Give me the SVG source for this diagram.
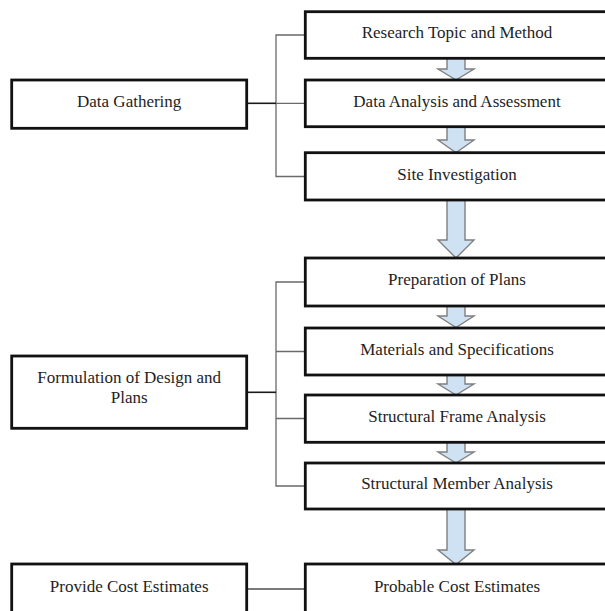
<svg xmlns="http://www.w3.org/2000/svg" width="605" height="611" viewBox="0 0 605 611">
<style>
.box{fill:#fff;stroke:#111;stroke-width:2.8}
.t{font-family:"Liberation Serif","Times New Roman",serif;font-size:17px;fill:#1e1e1e;text-anchor:middle}
.br{fill:none;stroke:#6a6a6a;stroke-width:1.3}
.lk{fill:none;stroke:#1a1a1a;stroke-width:1.6}
.lg{fill:none;stroke:#7a7a7a;stroke-width:2}
.ar{fill:#cfe2f3;stroke:#7f7f7f;stroke-width:1.4;stroke-linejoin:miter}
</style>
<rect width="605" height="611" fill="#fff"/>
<g id="connectors">
<path class="br" d="M305,35 H276 V176.5 H305 M276,103.3 H305"/>
<path class="lk" d="M246.7,103.3 H276"/>
<path class="br" d="M305,282 H276 V486 H305 M276,351.5 H305 M276,418.5 H305"/>
<path class="lk" d="M246.7,392.3 H276"/>
<path class="lg" d="M246.7,589 H305"/>
<path class="ar" d="M447,58 V69 H438 L456,80 L474,69 H465 V58 Z"/>
<path class="ar" d="M447,127 V140 H438 L456,152.7 L474,140 H465 V127 Z"/>
<path class="ar" d="M447,200 V240 H438 L456,258 L474,240 H465 V200 Z"/>
<path class="ar" d="M447,306 V316 H438 L456,327.5 L474,316 H465 V306 Z"/>
<path class="ar" d="M447,375 V384 H438 L456,395 L474,384 H465 V375 Z"/>
<path class="ar" d="M447,442 V452 H438 L456,463 L474,452 H465 V442 Z"/>
<path class="ar" d="M447,509 V550 H438 L456,564.5 L474,550 H465 V509 Z"/>
</g>
<g id="research"><rect class="box" x="305.3" y="11.7" width="304" height="46.6"/><text class="t" x="457" y="37.7">Research Topic and Method</text></g>
<g id="analysis"><rect class="box" x="305.3" y="80" width="304" height="46.7"/><text class="t" x="457" y="106.7">Data Analysis and Assessment</text></g>
<g id="site"><rect class="box" x="305.3" y="152.7" width="304" height="47.3"/><text class="t" x="457" y="180">Site Investigation</text></g>
<g id="prep"><rect class="box" x="305.3" y="258" width="304" height="48"/><text class="t" x="457" y="285">Preparation of Plans</text></g>
<g id="materials"><rect class="box" x="305.3" y="328" width="304" height="47"/><text class="t" x="457" y="355">Materials and Specifications</text></g>
<g id="frame"><rect class="box" x="305.3" y="395" width="304" height="47.3"/><text class="t" x="457" y="421.7">Structural Frame Analysis</text></g>
<g id="member"><rect class="box" x="305.3" y="463" width="304" height="46"/><text class="t" x="457" y="488.5">Structural Member Analysis</text></g>
<g id="probable"><rect class="box" x="305.3" y="564" width="304" height="50"/><text class="t" x="457" y="591.7">Probable Cost Estimates</text></g>
<g id="gathering"><rect class="box" x="11.7" y="80" width="235" height="48.3"/><text class="t" x="129.2" y="106.7">Data Gathering</text></g>
<g id="formulation"><rect class="box" x="11.7" y="356" width="235" height="72.3"/><text class="t" x="129.2" y="382.7">Formulation of Design and</text><text class="t" x="129.2" y="403">Plans</text></g>
<g id="provide"><rect class="box" x="11.7" y="564" width="235" height="50"/><text class="t" x="129.2" y="591.7">Provide Cost Estimates</text></g>
</svg>
